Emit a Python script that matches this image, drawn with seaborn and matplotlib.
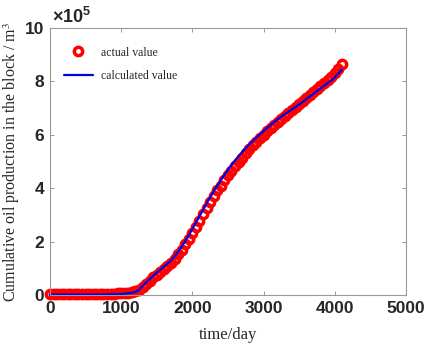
import numpy as np
import pandas as pd
import matplotlib
matplotlib.use('Agg')
import matplotlib.pyplot as plt
import seaborn as sns

# time axis (days), one sample every 50 days
days = list(range(0, 4101, 50))

# cumulative oil production, in units of 1e5 m^3
actual_value = [
    0.05, 0.05, 0.05, 0.05, 0.05, 0.05, 0.05, 0.05, 0.05, 0.05,   # 0-450
    0.05, 0.05, 0.05, 0.05, 0.05, 0.05, 0.06, 0.06, 0.06, 0.07,   # 500-950
    0.07, 0.08, 0.09, 0.11, 0.14, 0.20, 0.30, 0.42, 0.54, 0.66,   # 1000-1450
    0.77, 0.88, 0.99, 1.10, 1.22, 1.36, 1.52, 1.70, 1.90, 2.10,   # 1500-1950
    2.32, 2.55, 2.78, 3.02, 3.25, 3.48, 3.70, 3.92, 4.10, 4.30,   # 2000-2450
    4.48, 4.65, 4.82, 4.98, 5.14, 5.30, 5.45, 5.60, 5.74, 5.88,   # 2500-2950
    6.01, 6.14, 6.26, 6.38, 6.49, 6.60, 6.71, 6.82, 6.93, 7.04,   # 3000-3450
    7.15, 7.26, 7.37, 7.48, 7.60, 7.72, 7.84, 7.95, 8.06, 8.17,   # 3500-3950
    8.30, 8.46, 8.63,                                             # 4000-4100
]
calculated_value = [
    0.02, 0.02, 0.02, 0.02, 0.02, 0.02, 0.02, 0.02, 0.02, 0.02,
    0.02, 0.02, 0.02, 0.02, 0.02, 0.02, 0.03, 0.03, 0.03, 0.03,
    0.04, 0.05, 0.07, 0.09, 0.12, 0.20, 0.34, 0.47, 0.60, 0.72,
    0.84, 0.95, 1.06, 1.18, 1.30, 1.45, 1.62, 1.81, 2.02, 2.24,
    2.47, 2.71, 2.95, 3.19, 3.43, 3.66, 3.88, 4.10, 4.30, 4.50,
    4.69, 4.87, 5.04, 5.20, 5.35, 5.50, 5.64, 5.77, 5.90, 6.02,
    6.14, 6.26, 6.37, 6.48, 6.58, 6.68, 6.77, 6.86, 6.95, 7.04,
    7.13, 7.23, 7.33, 7.43, 7.53, 7.63, 7.73, 7.83, 7.93, 8.03,
    8.14, 8.29, 8.43,
]

df = pd.DataFrame({'day': days, 'actual': actual_value, 'calculated': calculated_value})

sns.set_style('ticks')
plt.rcParams['font.family'] = ['Liberation Sans', 'DejaVu Sans']
plt.rcParams['mathtext.fontset'] = 'custom'
plt.rcParams['mathtext.rm'] = 'Liberation Sans:bold'
plt.rcParams['mathtext.default'] = 'rm'

fig = plt.figure(figsize=(4.29, 3.53), dpi=100)
ax = fig.add_axes([0.1166, 0.164, 0.8294, 0.757])

sns.lineplot(data=df, x='day', y='actual', ax=ax, marker='o', linestyle='none',
             markersize=6, markerfacecolor='none', markeredgecolor='#ff0000',
             markeredgewidth=2.5, color='#ff0000', label='actual value', clip_on=False)
sns.lineplot(data=df, x='day', y='calculated', ax=ax, color='#0000e6',
             linewidth=1.6, label='calculated value', clip_on=False)

ax.set_xlim(0, 5000)
ax.set_ylim(0, 10)
ax.set_xticks([0, 1000, 2000, 3000, 4000, 5000])
ax.set_yticks([0, 2, 4, 6, 8, 10])

for lab in ax.get_xticklabels() + ax.get_yticklabels():
    lab.set_fontweight('bold')
    lab.set_fontsize(12.5)
ax.tick_params(direction='in', length=3, width=0.6, color='#888888',
               top=True, right=True, pad=4)
for sp in ax.spines.values():
    sp.set_color('#999999')
    sp.set_linewidth(0.8)

ax.text(0.005, 1.005, r'$\times\mathregular{10^{5}}$', transform=ax.transAxes,
        fontsize=13, fontweight='bold', ha='left', va='bottom')

ax.set_xlabel('time/day', family='Liberation Serif', fontsize=12, labelpad=8)
ax.set_ylabel('Cumulative oil production in the block / m$^3$',
              family='Liberation Serif', fontsize=11.5, labelpad=2)
ax.yaxis.label.set_math_fontfamily('stix')

ax.legend(loc='upper left', frameon=False, prop={'family': 'Liberation Serif', 'size': 8.5},
          handlelength=2.4, handletextpad=0.7, borderaxespad=0.5, labelspacing=1.0,
          bbox_to_anchor=(0.01, 0.97))

fig.savefig('out.png', dpi=100)
plt.close()
